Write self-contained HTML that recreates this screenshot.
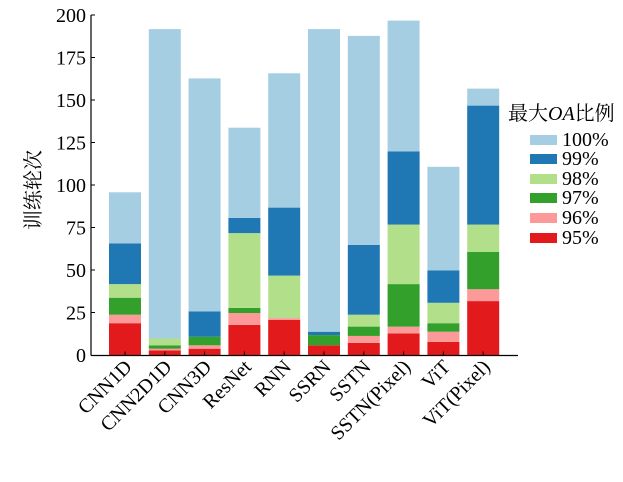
<!DOCTYPE html>
<html><head><meta charset="utf-8"><style>body{margin:0;background:#fff} svg text{font-family:"Liberation Serif","Noto Serif CJK SC",serif;}</style></head><body>
<svg width="623" height="477" viewBox="0 0 623 477" xmlns="http://www.w3.org/2000/svg">
<g id="bars"></g>
<line x1="91" y1="15" x2="91" y2="355.5" stroke="#000" stroke-width="1.2"/>
<line x1="91" y1="355.5" x2="518" y2="355.5" stroke="#000" stroke-width="1.2"/>
<g font-size="20" text-anchor="end" fill="#000">
<text x="86" y="22">200</text><text x="86" y="64.5">175</text><text x="86" y="107">150</text><text x="86" y="149.5">125</text><text x="86" y="192">100</text><text x="86" y="234.5">75</text><text x="86" y="277">50</text><text x="86" y="319.5">25</text><text x="86" y="362">0</text>
</g>
<g stroke="#000" stroke-width="1">
<line x1="91" x2="95" y1="15" y2="15"/><line x1="91" x2="95" y1="57.5" y2="57.5"/><line x1="91" x2="95" y1="100" y2="100"/><line x1="91" x2="95" y1="142.5" y2="142.5"/><line x1="91" x2="95" y1="185" y2="185"/><line x1="91" x2="95" y1="227.5" y2="227.5"/><line x1="91" x2="95" y1="270" y2="270"/><line x1="91" x2="95" y1="312.5" y2="312.5"/>
</g>
<text transform="translate(40,190) rotate(-90)" font-size="20" text-anchor="middle">训练轮次</text>
<g id="xl" font-size="20" text-anchor="end"></g>
<text x="508" y="120" font-size="20">最大<tspan font-style="italic">OA</tspan>比例</text>
<g font-size="20">
<rect x="530" y="135" width="27" height="10" fill="#a6cee3"/><text x="562" y="146">100%</text>
<rect x="530" y="154" width="27" height="10" fill="#1f78b4"/><text x="562" y="165">99%</text>
<rect x="530" y="174" width="27" height="10" fill="#b2df8a"/><text x="562" y="185">98%</text>
<rect x="530" y="193" width="27" height="10" fill="#33a02c"/><text x="562" y="204">97%</text>
<rect x="530" y="213" width="27" height="10" fill="#fb9a99"/><text x="562" y="224">96%</text>
<rect x="530" y="233" width="27" height="10" fill="#e31a1c"/><text x="562" y="244">95%</text>
</g>
</svg>
<script>
const names=["CNN1D","CNN2D1D","CNN3D","ResNet","RNN","SSRN","SSTN","SSTN(Pixel)","ViT","ViT(Pixel)"];
const d=[[19,24,34,42,66,96],[3,4,6,10,10,192],[4,6,11,11,26,163],[18,25,28,72,81,134],[21,22,22,47,87,166],[6,6,12,12,14,192],[7.4,11.5,17,24,65,188],[13,17,42,77,120,197],[8,14,19,31,50,111],[32,39,61,77,147,157]];
const c=["#e31a1c","#fb9a99","#33a02c","#b2df8a","#1f78b4","#a6cee3"];
const ns="http://www.w3.org/2000/svg";const g=document.getElementById("bars"),xl=document.getElementById("xl");
const Y=v=>355.5-1.7*v;
d.forEach((s,i)=>{const cx=125+39.8*i;let p=0;
s.forEach((v,j)=>{if(v>p){const r=document.createElementNS(ns,"rect");r.setAttribute("x",cx-16);r.setAttribute("width",32);r.setAttribute("y",Y(v));r.setAttribute("height",Y(p)-Y(v));r.setAttribute("fill",c[j]);g.appendChild(r);}p=Math.max(p,v);});
const t=document.createElementNS(ns,"line");t.setAttribute("x1",cx);t.setAttribute("x2",cx);t.setAttribute("y1",355.5);t.setAttribute("y2",351.5);t.setAttribute("stroke","#000");g.parentNode.appendChild(t);
const tx=document.createElementNS(ns,"text");tx.setAttribute("transform",`translate(${cx+8},368) rotate(-45)`);tx.textContent=names[i];xl.appendChild(tx);});
</script>
</body></html>
